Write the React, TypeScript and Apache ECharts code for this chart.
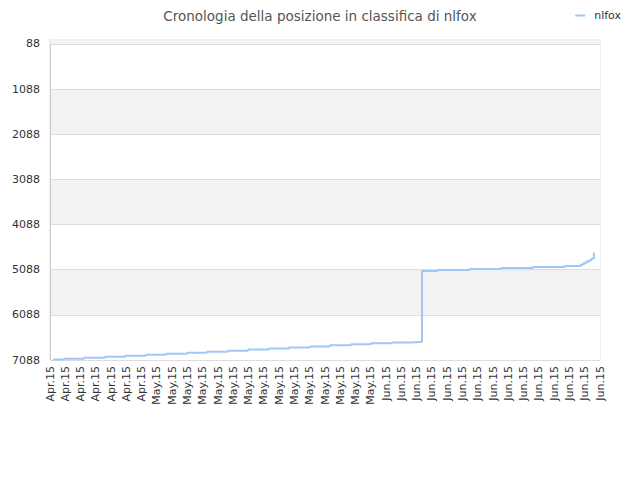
import React, { useEffect, useRef } from 'react'
import * as echarts from 'echarts'

const tickLabels = [
    'Apr.15', 'Apr.15', 'Apr.15', 'Apr.15', 'Apr.15', 'Apr.15', 'Apr.15',
    'May.15', 'May.15', 'May.15', 'May.15', 'May.15', 'May.15', 'May.15', 'May.15',
    'May.15', 'May.15', 'May.15', 'May.15', 'May.15', 'May.15', 'May.15',
    'Jun.15', 'Jun.15', 'Jun.15', 'Jun.15', 'Jun.15', 'Jun.15', 'Jun.15', 'Jun.15',
    'Jun.15', 'Jun.15', 'Jun.15', 'Jun.15', 'Jun.15', 'Jun.15', 'Jun.15',
]

// position of each rank change, in label units along the x axis
const changeAt = [
    0.2, 0.92, 2.23, 3.6, 4.91, 6.28, 7.59, 8.97, 10.27, 11.65, 12.96, 14.33, 15.64,
    17.02, 18.32, 19.7, 21.01, 22.38, 23.69, 24.35, 25.39, 27.49, 29.52, 31.61, 33.7,
    34.75, 34.95, 35.14, 35.34, 35.47, 35.6,
]
const ranks = [
    7075, 7058, 7037, 7015, 6993, 6971, 6949, 6927, 6905, 6883, 6858, 6834, 6810,
    6787, 6764, 6741, 6719, 6699, 6684, 5115, 5092, 5070, 5048, 5026, 5004,
    4970, 4935, 4900, 4870, 4840, 4708,
]
const yTicks = [88, 1088, 2088, 3088, 4088, 5088, 6088, 7088]

const App: React.FC = () => {
    const chartRef = useRef(null)

    useEffect(() => {
        const chart = echarts.init(chartRef.current, null, { renderer: 'svg' })
        const font = 'DejaVu Sans'

        const option = {
            animation: false,
            textStyle: { fontFamily: font },
            title: {
                text: 'Cronologia della posizione in classifica di nlfox',
                left: 'center',
                top: 4,
                textStyle: { fontSize: 13.5, fontWeight: 'normal', color: '#555', fontFamily: font },
            },
            legend: {
                right: 14,
                top: 5,
                itemWidth: 10,
                itemHeight: 2,
                icon: 'rect',
                textStyle: { fontSize: 11, color: '#333', fontFamily: font, padding: [0, 0, 0, 4] },
                data: ['nlfox'],
            },
            grid: {
                left: 50,
                right: 40,
                top: 40,
                bottom: 120,
                show: true,
                borderColor: '#ddd',
                borderWidth: 1,
                containLabel: false,
            },
            xAxis: {
                type: 'value',
                min: 0,
                max: tickLabels.length - 1,
                interval: 1,
                axisLine: { show: true, lineStyle: { color: '#ccc' } },
                axisTick: { show: false },
                splitLine: { show: false },
                axisLabel: {
                    rotate: 90,
                    fontSize: 11,
                    color: '#333',
                    margin: 6,
                    fontFamily: font,
                    formatter: (v: number) => tickLabels[Math.round(v)] ?? '',
                },
            },
            yAxis: {
                type: 'value',
                inverse: true,
                min: 0,
                max: 7088,
                axisLine: { show: true, lineStyle: { color: '#ccc' } },
                axisTick: { show: false, customValues: yTicks },
                axisLabel: {
                    customValues: yTicks,
                    fontSize: 11,
                    color: '#333',
                    margin: 10,
                    fontFamily: font,
                    formatter: (v: number) => String(v),
                },
                splitLine: { show: true, lineStyle: { color: '#ddd' } },
                splitArea: { show: true, areaStyle: { color: ['#ffffff', '#f2f2f2'] } },
            },
            series: [
                {
                    name: 'nlfox',
                    type: 'line',
                    step: 'end',
                    showSymbol: false,
                    symbol: 'none',
                    color: '#9ec9f5',
                    lineStyle: { width: 2, color: '#9ec9f5' },
                    data: changeAt.map((x, i) => [x, ranks[i]]),
                    markArea: {
                        silent: true,
                        itemStyle: { color: '#f2f2f2' },
                        data: [[{ yAxis: 0 }, { yAxis: yTicks[0] }]],
                    },
                },
            ],
        }

        chart.setOption(option)

        return () => {
            chart.dispose()
        }
    }, [])

    return <div ref={chartRef} style={{ width: '640px', height: '480px', margin: '-8px' }} />
}

export default App
